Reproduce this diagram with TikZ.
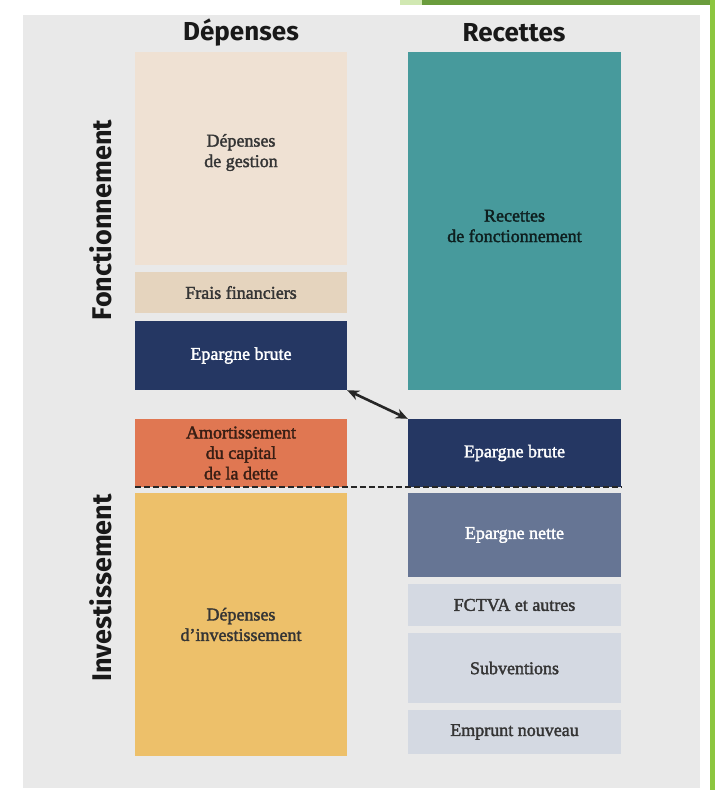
\documentclass[tikz,border=0pt]{standalone}
\usepackage{fontspec}
\setmainfont{Liberation Serif}
\newfontfamily\boxfont[FakeBold=2]{Liberation Serif}
\newfontfamily\headfont{Fira Sans}
\usetikzlibrary{arrows.meta}

\definecolor{fond}{HTML}{E9E9E9}
\definecolor{beige}{HTML}{EFE1D3}
\definecolor{sable}{HTML}{E5D4BE}
\definecolor{marine}{HTML}{253763}
\definecolor{corail}{HTML}{E07752}
\definecolor{ocre}{HTML}{EDC06A}
\definecolor{canard}{HTML}{479A9C}
\definecolor{ardoise}{HTML}{667594}
\definecolor{perle}{HTML}{D4D9E2}
\definecolor{encre}{HTML}{353535}
\definecolor{vert}{HTML}{6A9C3C}
\definecolor{vertclair}{HTML}{8CC63F}

\tikzset{
  bloc/.style={inner sep=0pt, align=center, text=encre,
    font=\boxfont\fontsize{18}{20.5}\selectfont},
  sombre/.style={bloc, text=white},
  titre/.style={font=\headfont\bfseries\fontsize{26}{30}\selectfont, text=black!90},
  cote/.style={titre, rotate=90, font=\headfont\bfseries\fontsize{27}{30}\selectfont}
}

\begin{document}
\begin{tikzpicture}[x=1pt, y=-1pt]
\useasboundingbox (0,0) rectangle (715,790);
% cadre
\fill[fond] (23,15) rectangle (700,788);
\fill[vertclair!40] (400,0) rectangle (422,5);
\fill[vert] (422,0) rectangle (715,5);
\fill[vertclair] (710,0) rectangle (715,790);

% titres
\node[titre] (dep) at (241,33) {Dépenses};
\node[titre] (rec) at (514,33) {Recettes};
\node[cote] (fonct) at (101,220) {Fonctionnement};
\node[cote] (inv) at (101,588) {Investissement};

% depenses
\node[bloc, fill=beige, minimum width=212, minimum height=213,
  label={[bloc, yshift=6pt]center:Dépenses\\de gestion}] (gestion) at (241,158.5) {};
\node[bloc, fill=sable, minimum width=212, minimum height=41] (frais) at (241,292.5) {Frais financiers};
\node[sombre, fill=marine, minimum width=212, minimum height=69] (brutL) at (241,355.5) {Epargne brute};
\node[bloc, fill=corail, text=black!75!corail, minimum width=212, minimum height=68] (amort) at (241,453) {Amortissement\\du capital\\de la dette};
\node[bloc, fill=ocre, minimum width=212, minimum height=263] (invest) at (241,624.5) {Dépenses\\d’investissement};

% recettes
\node[bloc, fill=canard, minimum width=213, minimum height=338,
  label={[bloc, text=black!80!canard, yshift=-5pt]center:Recettes\\de fonctionnement}] (recettes) at (514.5,221) {};
\node[sombre, fill=marine, minimum width=213, minimum height=68] (brutR) at (514.5,453) {Epargne brute};
\node[sombre, fill=ardoise, minimum width=213, minimum height=84] (nette) at (514.5,535) {Epargne nette};
\node[bloc, fill=perle, minimum width=213, minimum height=42] (fctva) at (514.5,605) {FCTVA et autres};
\node[bloc, fill=perle, minimum width=213, minimum height=70] (subv) at (514.5,668) {Subventions};
\node[bloc, fill=perle, minimum width=213, minimum height=44] (emprunt) at (514.5,732) {Emprunt nouveau};

\draw[{Stealth[length=12pt,width=10pt]}-{Stealth[length=12pt,width=10pt]}, line width=2.6pt, black!85] (brutL.south east) -- (brutR.north west);
\draw[dash pattern=on 6pt off 3pt, line width=1.8pt, black!85] (amort.south west) -- (brutR.south east);
\end{tikzpicture}
\end{document}
